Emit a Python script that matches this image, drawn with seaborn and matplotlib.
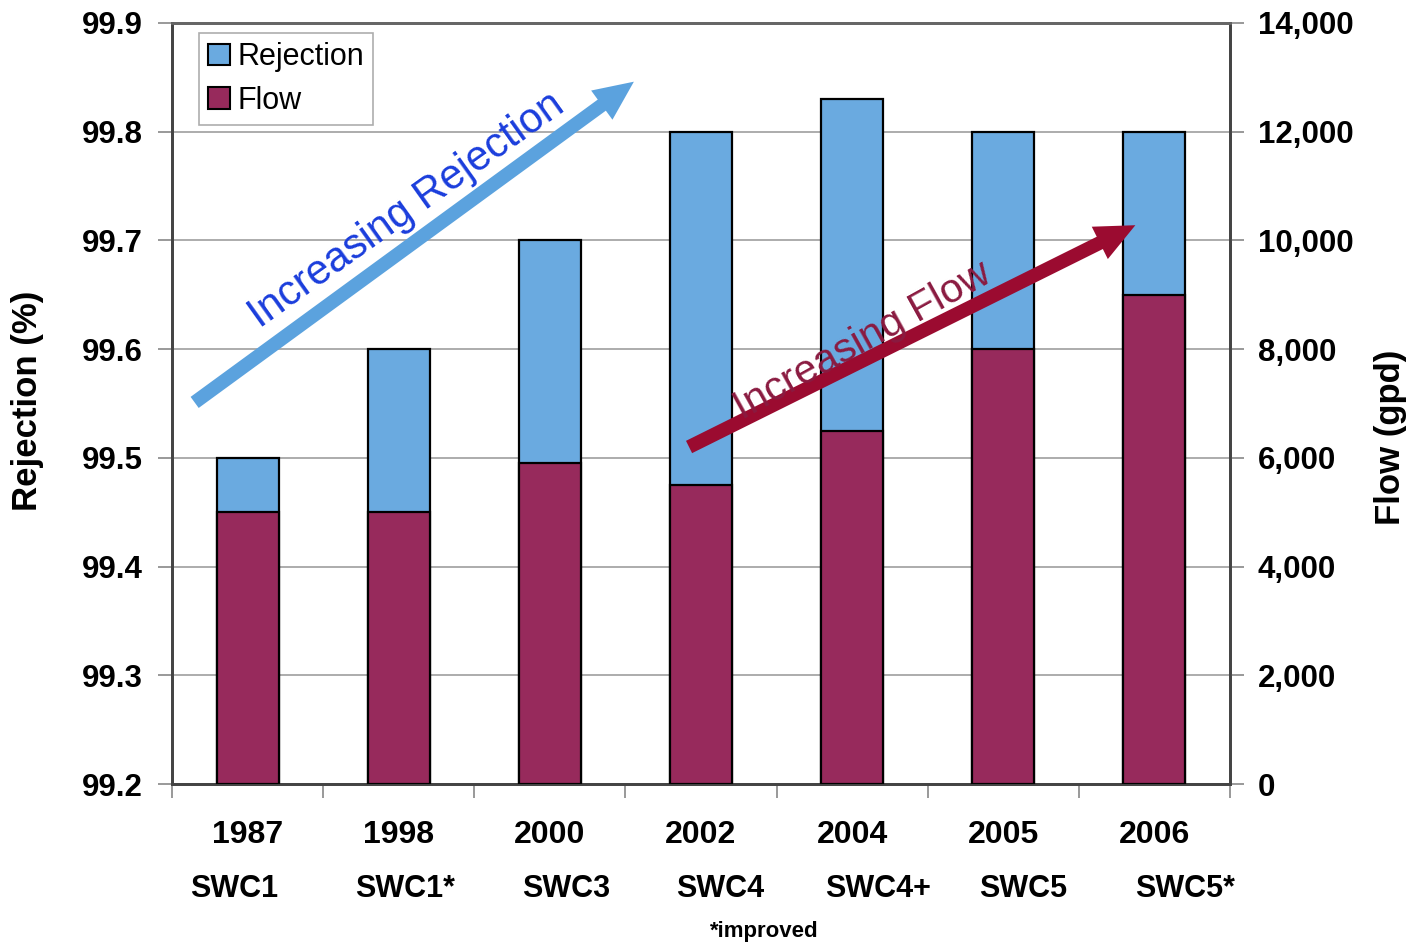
import numpy as np
import pandas as pd
import matplotlib
matplotlib.use("Agg")
import matplotlib.pyplot as plt
from matplotlib.patches import Patch
from matplotlib.transforms import blended_transform_factory
import seaborn as sns

# Membrane generations: year of release, element name, salt rejection and permeate flow
years = ["1987", "1998", "2000", "2002", "2004", "2005", "2006"]
elements = ["SWC1", "SWC1*", "SWC3", "SWC4", "SWC4+", "SWC5", "SWC5*"]
rejection = [99.5, 99.6, 99.7, 99.8, 99.83, 99.8, 99.8]
flow = [5000, 5000, 5900, 5500, 6500, 8000, 9000]

rej_ticks = [99.2, 99.3, 99.4, 99.5, 99.6, 99.7, 99.8, 99.9]
flow_ticks = [0, 2000, 4000, 6000, 8000, 10000, 12000, 14000]

df = pd.DataFrame({"year": years, "element": elements,
                   "rejection": rejection, "flow": flow})

sns.set_style("white")
plt.rcParams["font.family"] = ["Liberation Sans", "DejaVu Sans"]
plt.rcParams["text.color"] = "black"
plt.rcParams["axes.labelcolor"] = "black"
plt.rcParams["xtick.labelcolor"] = "black"
plt.rcParams["ytick.labelcolor"] = "black"

BLUE = "#6aaae0"
MAROON = "#972a5c"
SPINE = "#444444"

fig = plt.figure(figsize=(14.12, 9.42), dpi=100)
ax = fig.add_axes([0.1218, 0.1677, 0.8711 - 0.1218, 0.9756 - 0.1677])

sns.barplot(data=df, x="year", y="rejection", ax=ax, color=BLUE,
            edgecolor="black", linewidth=1.6, width=0.41, saturation=1,
            zorder=3)
ax.set_ylim(99.2, 99.9)
ax.set_xlim(-0.5, len(years) - 0.5)

ax2 = ax.twinx()
sns.barplot(data=df, x="year", y="flow", ax=ax2, color=MAROON,
            edgecolor="black", linewidth=1.6, width=0.41, saturation=1,
            zorder=3)
ax2.set_ylim(0, 14000)
ax2.set_xlim(-0.5, len(years) - 0.5)

# Horizontal grid on the rejection axis
ax.set_yticks(rej_ticks)
ax.set_yticklabels([f"{v:.1f}" for v in rej_ticks])
ax.yaxis.grid(True, color="#a6a6a6", linewidth=1.3, zorder=0)
ax.set_axisbelow(True)

ax2.set_yticks(flow_ticks)
ax2.set_yticklabels([f"{v:,}" for v in flow_ticks])

for lab in ax.get_yticklabels() + ax2.get_yticklabels():
    lab.set_fontsize(22.5)
    lab.set_fontweight("bold")
    lab.set_color("black")

ax.tick_params(axis="y", direction="out", length=10, width=1.2,
               color="#888888", pad=11, left=True)
ax2.tick_params(axis="y", direction="out", length=10, width=1.2,
                color="#888888", pad=10, right=True)

# Category boundaries carry the x tick marks; labels are placed as text
for a in (ax, ax2):
    a.set_xticks([])
    a.set_xlabel("")
ax.set_xticks(np.arange(-0.5, len(years), 1.0), minor=True)
ax.tick_params(axis="x", which="minor", direction="out", length=10,
               width=1.2, color="#888888", bottom=True)

for a in (ax, ax2):
    for side in ("left", "right", "bottom"):
        a.spines[side].set_color(SPINE)
        a.spines[side].set_linewidth(2.0)
    a.spines["top"].set_color("#666666")
    a.spines["top"].set_linewidth(2.0)

ax.set_ylabel("Rejection (%)", fontsize=25, fontweight="bold", color="black")
ax.yaxis.set_label_coords(-0.121, 0.503)
ax2.set_ylabel("Flow (gpd)", fontsize=25, fontweight="bold",
               rotation=90, color="black")
ax2.yaxis.set_label_coords(1.136, 0.456)

trans = blended_transform_factory(ax.transData, ax.transAxes)
swc_nudge = [-0.09, 0.04, 0.11, 0.13, 0.17, 0.13, 0.2]
for i, (yr, el) in enumerate(zip(years, elements)):
    ax.text(i, -0.0664, yr, transform=trans, ha="center", va="center",
            fontsize=23, fontweight="bold", color="black")
    ax.text(i + swc_nudge[i], -0.1373, el, transform=trans, ha="center",
            va="center", fontsize=22, fontweight="bold", color="black")
ax.text(0.56, -0.1939, "*improved", transform=ax.transAxes, ha="center",
        va="center", fontsize=16, fontweight="bold", color="black")

# Legend
handles = [Patch(facecolor=BLUE, edgecolor="black", linewidth=1.5, label="Rejection"),
           Patch(facecolor=MAROON, edgecolor="black", linewidth=1.5, label="Flow")]
leg = ax2.legend(handles=handles, loc="upper left",
                 bbox_to_anchor=(0.0255, 0.987), fontsize=22, frameon=True,
                 fancybox=False, edgecolor="#999999", handlelength=0.7,
                 handleheight=0.7, handletextpad=0.25, borderpad=0.3,
                 labelspacing=0.45, borderaxespad=0)
leg.get_frame().set_linewidth(1.2)
for t in leg.get_texts():
    t.set_color("black")

# Trend arrows with their captions
ax2.annotate("", xy=(2.556, 99.846), xytext=(-0.35, 99.551),
             xycoords=ax.transData, textcoords=ax.transData,
             arrowprops=dict(arrowstyle="simple,head_length=1.1,head_width=1.0,tail_width=0.38",
                             mutation_scale=26, color="#5ba2de", shrinkA=0,
                             shrinkB=0, linewidth=0), zorder=6)
ax2.text(1.053, 99.728, "Increasing Rejection", transform=ax.transData,
         rotation=35.5, rotation_mode="anchor", ha="center", va="center",
         fontsize=30, color="#1a3ddc", zorder=7)

ax2.annotate("", xy=(5.874, 99.714), xytext=(2.921, 99.510),
             xycoords=ax.transData, textcoords=ax.transData,
             arrowprops=dict(arrowstyle="simple,head_length=1.1,head_width=1.0,tail_width=0.38",
                             mutation_scale=26, color="#9b0b30", shrinkA=0,
                             shrinkB=0, linewidth=0), zorder=6)
ax2.text(4.066, 99.608, "Increasing Flow", transform=ax.transData,
         rotation=29, rotation_mode="anchor", ha="center", va="center",
         fontsize=29.5, color="#8a1a40", zorder=7)

fig.savefig("out.png", dpi=100)
